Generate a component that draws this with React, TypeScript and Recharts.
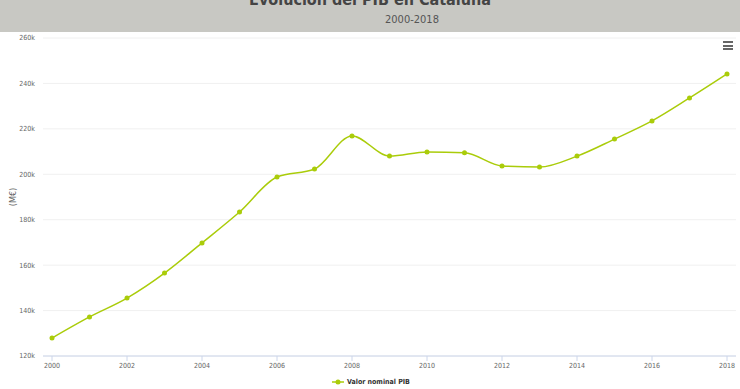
import { LineChart, Line, XAxis, YAxis, CartesianGrid, Label } from 'recharts';

// PIB nominal de Cataluña (k = miles de M€)
const years = [2000, 2001, 2002, 2003, 2004, 2005, 2006, 2007, 2008, 2009, 2010, 2011, 2012, 2013, 2014, 2015, 2016, 2017, 2018];
const pibValues = [127.9, 137.2, 145.5, 156.5, 169.8, 183.4, 198.8, 202.3, 216.9, 208.0, 209.8, 209.5, 203.7, 203.2, 208.0, 215.5, 223.5, 233.6, 244.2];
const xTicks = [2000, 2002, 2004, 2006, 2008, 2010, 2012, 2014, 2016, 2018];
const yTicks = [120000, 140000, 160000, 180000, 200000, 220000, 240000, 260000];

const data = years.map((year, i) => ({ year, pib: pibValues[i] * 1000 }));

const GREEN = '#aacc0a';
const FONT = '"DejaVu Sans Condensed", "Liberation Sans Narrow", sans-serif';

export default function App() {
    return (
        <div
            style={{
                position: 'absolute', top: 0, left: 0, width: 740, height: 389,
                overflow: 'hidden', background: '#fff', fontFamily: FONT,
            }}
        >
            {/* Header */}
            <div style={{ position: 'absolute', top: 0, left: 0, width: 740, height: 32, background: '#c8c8c3' }}>
                <div
                    style={{
                        position: 'absolute', top: -10, left: 0, width: 740, textAlign: 'center',
                        fontSize: 16, fontWeight: 'bold', color: '#444',
                    }}
                >
                    Evolución del PIB en Cataluña
                </div>
                <div style={{ position: 'absolute', top: 13, left: 385, fontSize: 11, color: '#555' }}>
                    2000-2018
                </div>
            </div>

            {/* Menu icon */}
            <div style={{ position: 'absolute', top: 41, left: 723, width: 10 }}>
                {[0, 1, 2].map((i) => (
                    <div key={i} style={{ height: 2, background: '#666', marginBottom: 1.5 }} />
                ))}
            </div>

            <div style={{ position: 'absolute', top: 0, left: 0 }}>
                <LineChart width={740} height={389} data={data} margin={{ top: 38, right: 4, bottom: 13, left: 0 }}>
                    <CartesianGrid vertical={false} stroke="#f0f0f0" />
                    <XAxis
                        dataKey="year"
                        type="number"
                        domain={[1999.76, 2018.24]}
                        ticks={xTicks}
                        height={20}
                        tick={{ fill: '#666', fontSize: 7, fontFamily: FONT }}
                        tickLine={{ stroke: '#ccd6eb' }}
                        tickSize={5}
                        axisLine={{ stroke: '#ccd6eb' }}
                        interval={0}
                    />
                    <YAxis
                        domain={[120000, 260000]}
                        ticks={yTicks}
                        width={43}
                        tickFormatter={(v) => `${v / 1000}k`}
                        tick={{ fill: '#666', fontSize: 7, fontFamily: FONT }}
                        axisLine={false}
                        tickLine={false}
                        tickMargin={2}
                        interval={0}
                    >
                        <Label
                            value="(M€)"
                            angle={-90}
                            position="insideLeft"
                            offset={13}
                            style={{ fill: '#666', fontSize: 9, fontFamily: FONT, textAnchor: 'middle' }}
                        />
                    </YAxis>
                    <Line
                        type="monotone"
                        dataKey="pib"
                        stroke={GREEN}
                        strokeWidth={1.5}
                        dot={{ r: 2.5, fill: GREEN, stroke: GREEN, strokeWidth: 0 }}
                        isAnimationActive={false}
                    />
                </LineChart>
            </div>

            {/* Legend */}
            <div
                style={{
                    position: 'absolute', top: 378, left: 332, display: 'flex', alignItems: 'center',
                    fontSize: 7, fontWeight: 'bold', color: '#333',
                }}
            >
                <svg width={12} height={8} style={{ marginRight: 3 }}>
                    <line x1={0} y1={4} x2={12} y2={4} stroke={GREEN} strokeWidth={1.5} />
                    <circle cx={6} cy={4} r={2.5} fill={GREEN} />
                </svg>
                Valor nominal PIB
            </div>
        </div>
    );
}
